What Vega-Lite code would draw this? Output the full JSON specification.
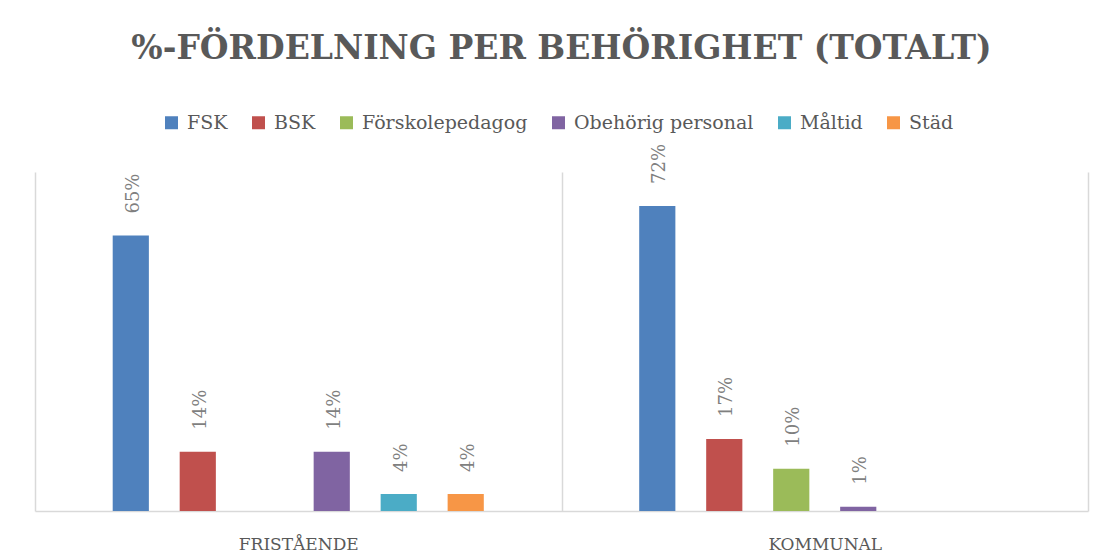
{
  "$schema": "https://vega.github.io/schema/vega-lite/v6.json",
  "width": 1053,
  "height": 339,
  "autosize": "none",
  "padding": {"left": 35, "top": 172, "right": 17, "bottom": 48},
  "background": "white",
  "title": {
    "text": "%-FÖRDELNING PER BEHÖRIGHET (TOTALT)",
    "font": "DejaVu Serif",
    "fontSize": 33,
    "fontWeight": "bold",
    "color": "#595959",
    "anchor": "middle",
    "offset": 47
  },
  "data": {
    "values": [
      {"grupp": "FRISTÅENDE", "kategori": "FSK", "andel": 0.65},
      {"grupp": "FRISTÅENDE", "kategori": "BSK", "andel": 0.14},
      {"grupp": "FRISTÅENDE", "kategori": "Obehörig personal", "andel": 0.14},
      {"grupp": "FRISTÅENDE", "kategori": "Måltid", "andel": 0.04},
      {"grupp": "FRISTÅENDE", "kategori": "Städ", "andel": 0.04},
      {"grupp": "KOMMUNAL", "kategori": "FSK", "andel": 0.72},
      {"grupp": "KOMMUNAL", "kategori": "BSK", "andel": 0.17},
      {"grupp": "KOMMUNAL", "kategori": "Förskolepedagog", "andel": 0.10},
      {"grupp": "KOMMUNAL", "kategori": "Obehörig personal", "andel": 0.01}
    ]
  },
  "config": {"view": {"stroke": null}},
  "encoding": {
    "x": {
      "field": "grupp",
      "type": "nominal",
      "scale": {"paddingInner": 0, "paddingOuter": 0},
      "axis": {
        "title": null,
        "labelAngle": 0,
        "labelFont": "DejaVu Serif",
        "labelFontSize": 17,
        "labelColor": "#595959",
        "labelPadding": 25,
        "ticks": false,
        "domainColor": "#d9d9d9",
        "domainWidth": 1.5,
        "grid": true,
        "tickBand": "extent",
        "gridColor": "#d9d9d9",
        "gridWidth": 1.5
      }
    },
    "xOffset": {
      "field": "kategori",
      "type": "nominal",
      "scale": {
        "domain": ["(start)", "FSK", "BSK", "Förskolepedagog", "Obehörig personal", "Måltid", "Städ", "(slut)"],
        "paddingInner": 0.46,
        "paddingOuter": 0.16
      }
    },
    "y": {
      "field": "andel",
      "type": "quantitative",
      "scale": {"domain": [0, 0.8]},
      "axis": null
    }
  },
  "layer": [
    {
      "mark": {"type": "bar"},
      "encoding": {
        "color": {
          "field": "kategori",
          "type": "nominal",
          "scale": {
            "domain": ["FSK", "BSK", "Förskolepedagog", "Obehörig personal", "Måltid", "Städ"],
            "range": ["#4F81BD", "#C0504D", "#9BBB59", "#8064A2", "#4BACC6", "#F79646"]
          },
          "legend": {
            "title": null,
            "orient": "none",
            "legendX": 127,
            "legendY": -59,
            "direction": "horizontal",
            "symbolType": "square",
            "symbolSize": 169,
            "symbolStrokeWidth": 0,
            "labelFont": "DejaVu Serif",
            "labelFontSize": 19,
            "labelColor": "#595959",
            "labelOffset": 6,
            "labelLimit": 400,
            "columnPadding": 21
          }
        }
      }
    },
    {
      "mark": {
        "type": "text",
        "angle": 270,
        "align": "left",
        "baseline": "middle",
        "dx": 22,
        "dy": 3,
        "font": "DejaVu Serif",
        "fontSize": 18,
        "color": "#7f7f7f"
      },
      "encoding": {
        "text": {"field": "andel", "type": "quantitative", "format": ".0%"}
      }
    }
  ]
}
